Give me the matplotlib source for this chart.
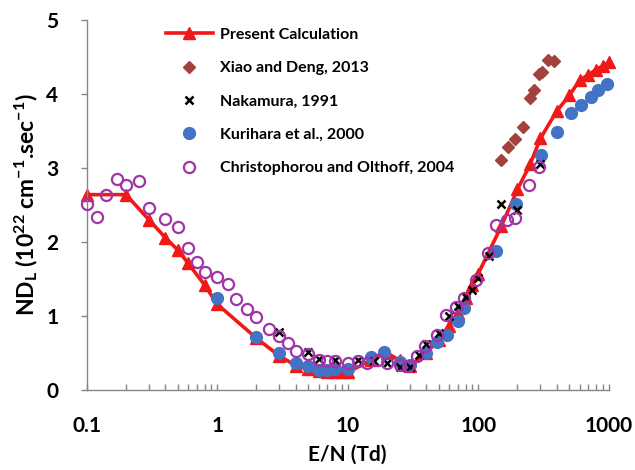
import matplotlib
matplotlib.use("Agg")
import matplotlib.pyplot as plt
from matplotlib.ticker import FixedLocator, FixedFormatter, LogLocator, NullFormatter

plt.rcParams['font.family'] = ['Lato', 'DejaVu Sans']
plt.rcParams['font.weight'] = 'bold'
plt.rcParams['mathtext.fontset'] = 'custom'
plt.rcParams['mathtext.rm'] = 'Lato:bold'
plt.rcParams['mathtext.it'] = 'Lato:bold'
plt.rcParams['mathtext.bf'] = 'Lato:bold'

# Present Calculation
calc_x = [0.1, 0.2, 0.3, 0.4, 0.5, 0.6, 0.8, 1, 2, 3, 4, 5, 6, 7, 8, 9, 10, 15, 20, 25, 30,
          40, 50, 60, 70, 80, 90, 100, 150, 200, 250, 300, 400, 500, 600, 700, 800, 900, 1000]
calc_y = [2.64, 2.64, 2.30, 2.06, 1.89, 1.71, 1.42, 1.16, 0.70, 0.46, 0.33, 0.29, 0.26, 0.25,
          0.24, 0.24, 0.24, 0.40, 0.50, 0.40, 0.32, 0.50, 0.68, 0.87, 1.04, 1.24, 1.42, 1.57,
          2.21, 2.71, 3.05, 3.40, 3.77, 3.98, 4.19, 4.26, 4.33, 4.38, 4.43]

# Xiao and Deng, 2013
xiao_x = [150, 170, 190, 220, 250, 270, 290, 310, 340, 380]
xiao_y = [3.11, 3.28, 3.39, 3.55, 3.95, 4.05, 4.27, 4.30, 4.46, 4.45]

# Nakamura, 1991
naka_x = [3, 5, 6, 8, 12, 16, 20, 25, 30, 35, 40, 50, 60, 70, 80, 90, 100, 120, 150, 200, 300]
naka_y = [0.79, 0.51, 0.42, 0.41, 0.40, 0.39, 0.36, 0.31, 0.31, 0.47, 0.62, 0.77, 1.00,
          1.13, 1.26, 1.35, 1.51, 1.81, 2.52, 2.43, 3.05]

# Kurihara et al., 2000
kuri_x = [1, 2, 3, 4, 5, 6, 7, 8, 10, 15, 19, 25, 30, 40, 48, 58, 70, 78, 138, 194, 302,
          405, 512, 611, 728, 833, 970]
kuri_y = [1.25, 0.72, 0.50, 0.36, 0.32, 0.27, 0.27, 0.28, 0.28, 0.45, 0.51, 0.38, 0.34,
          0.50, 0.65, 0.75, 0.93, 1.11, 1.88, 2.52, 3.18, 3.49, 3.75, 3.85, 3.96, 4.05, 4.14]

# Christophorou and Olthoff, 2004
chri_x = [0.1, 0.12, 0.14, 0.17, 0.2, 0.25, 0.3, 0.4, 0.5, 0.6, 0.7, 0.8, 1.0, 1.2, 1.4,
          1.7, 2.0, 2.5, 3.0, 3.5, 4.0, 5.0, 6.0, 7.0, 8.0, 10, 12, 14, 17, 20, 25, 29, 34,
          39, 48, 57, 68, 78, 96, 118, 137, 166, 192, 245, 293]
chri_y = [2.52, 2.34, 2.63, 2.85, 2.77, 2.82, 2.46, 2.31, 2.20, 1.92, 1.73, 1.59, 1.53,
          1.43, 1.23, 1.10, 0.99, 0.83, 0.73, 0.64, 0.53, 0.48, 0.41, 0.39, 0.39, 0.36,
          0.39, 0.37, 0.41, 0.36, 0.34, 0.33, 0.46, 0.60, 0.75, 1.01, 1.12, 1.25, 1.49,
          1.85, 2.23, 2.30, 2.32, 2.77, 3.02]

xticks = [0.1, 1, 10, 100, 1000]
xtick_labels = ["0.1", "1", "10", "100", "1000"]
yticks = [0, 1, 2, 3, 4, 5]

fig = plt.figure(figsize=(6.35, 4.70), dpi=100)
ax = fig.add_axes([86.7/635, 1-390/470, (608.7-86.7)/635, 370/470])

ax.plot(calc_x, calc_y, color='#f01818', lw=2.6, marker='^', ms=8.5,
        label='Present Calculation', zorder=2, clip_on=False)
ax.plot(xiao_x, xiao_y, ls='none', marker='D', ms=6, color='#a3423c',
        label='Xiao and Deng, 2013', zorder=3)
ax.plot(naka_x, naka_y, ls='none', marker='x', ms=6, mew=1.8, color='black',
        label='Nakamura, 1991', zorder=5)
ax.plot(kuri_x, kuri_y, ls='none', marker='o', ms=8.5, color='#4472c4',
        label='Kurihara et al., 2000', zorder=4, clip_on=False)
ax.plot(chri_x, chri_y, ls='none', marker='o', ms=8, mfc='none', mec='#a035a8', mew=1.6,
        label='Christophorou and Olthoff, 2004', zorder=6, clip_on=False)

ax.set_xscale('log')
ax.set_xlim(0.1, 1000)
ax.set_ylim(0, 5)

ax.xaxis.set_major_locator(FixedLocator(xticks))
ax.xaxis.set_major_formatter(FixedFormatter(xtick_labels))
ax.xaxis.set_minor_locator(LogLocator(base=10, subs=range(2, 10), numticks=20))
ax.xaxis.set_minor_formatter(NullFormatter())
ax.set_yticks(yticks)

for s in ['top', 'right']:
    ax.spines[s].set_visible(False)
for s in ['left', 'bottom']:
    ax.spines[s].set_color('#868686')
    ax.spines[s].set_linewidth(1.0)

ax.tick_params(axis='x', which='both', direction='in', length=4.5, width=1.0,
               color='#868686', labelsize=15, pad=19)
ax.tick_params(axis='y', which='major', direction='out', length=4.5, width=1.0,
               color='#868686', labelsize=15, pad=16)
for lab in ax.get_xticklabels() + ax.get_yticklabels():
    lab.set_fontweight('bold')

ax.set_xlabel('E/N (Td)', fontsize=15, fontweight='bold', labelpad=6)
ax.set_ylabel(r'ND$_{\mathregular{L}}$ (10$^{22}$ cm$^{-1}$.sec$^{-1}$)', fontsize=16.5,
              fontweight='bold', labelpad=4)

leg = ax.legend(loc='upper left', bbox_to_anchor=(0.125, 1.018), frameon=False,
                numpoints=1, handlelength=2.9, handletextpad=0.45, labelspacing=1.2,
                prop={'weight': 'bold', 'size': 11.5})

fig.savefig('out.png', dpi=100)
